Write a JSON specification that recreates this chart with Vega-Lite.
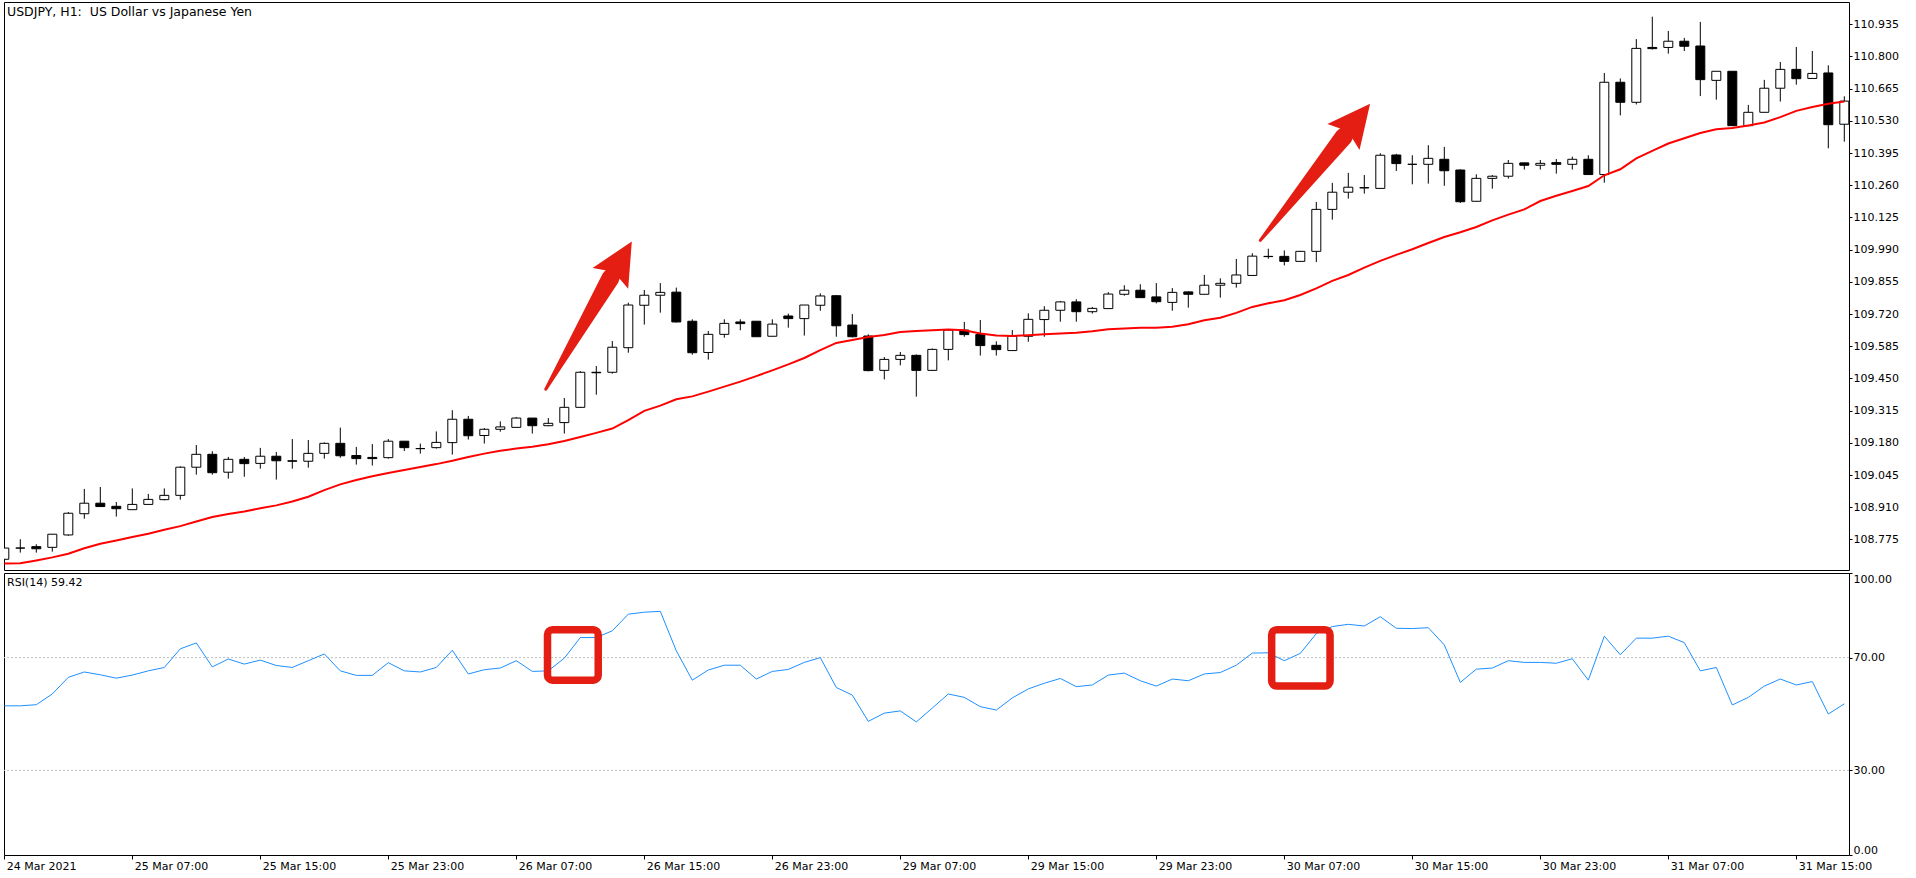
{
  "$schema": "https://vega.github.io/schema/vega-lite/v6.json",
  "background": "white",
  "padding": {"left": 1, "top": 1, "right": 0, "bottom": 0},
  "config": {
    "view": {"stroke": "black", "strokeWidth": 1},
    "axis": {"labelFont": "DejaVu Sans", "labelFontSize": 11, "labelColor": "black", "tickColor": "black", "domain": false, "grid": false, "labelOverlap": false},
    "axisY": {"labelOverlap": false},
    "title": {"font": "DejaVu Sans", "color": "black", "fontWeight": "normal"}
  },
  "datasets": {
    "bars": [
      {"t":"24 Mar 23:00","o":108.692,"h":108.742,"l":108.690,"c":108.739,"ma":108.674,"rsi":52.9},
      {"t":"25 Mar 00:00","o":108.739,"h":108.776,"l":108.720,"c":108.739,"ma":108.675,"rsi":52.9},
      {"t":"25 Mar 01:00","o":108.745,"h":108.755,"l":108.720,"c":108.736,"ma":108.687,"rsi":53.3},
      {"t":"25 Mar 02:00","o":108.742,"h":108.797,"l":108.724,"c":108.797,"ma":108.700,"rsi":57.1},
      {"t":"25 Mar 03:00","o":108.794,"h":108.890,"l":108.790,"c":108.885,"ma":108.715,"rsi":63.0},
      {"t":"25 Mar 04:00","o":108.883,"h":108.987,"l":108.862,"c":108.927,"ma":108.738,"rsi":64.9},
      {"t":"25 Mar 05:00","o":108.927,"h":108.995,"l":108.912,"c":108.913,"ma":108.757,"rsi":63.9},
      {"t":"25 Mar 06:00","o":108.914,"h":108.932,"l":108.871,"c":108.904,"ma":108.771,"rsi":62.7},
      {"t":"25 Mar 07:00","o":108.900,"h":108.989,"l":108.899,"c":108.922,"ma":108.785,"rsi":63.8},
      {"t":"25 Mar 08:00","o":108.922,"h":108.966,"l":108.921,"c":108.943,"ma":108.799,"rsi":65.3},
      {"t":"25 Mar 09:00","o":108.942,"h":108.989,"l":108.939,"c":108.960,"ma":108.816,"rsi":66.5},
      {"t":"25 Mar 10:00","o":108.960,"h":109.082,"l":108.942,"c":109.078,"ma":108.831,"rsi":73.1},
      {"t":"25 Mar 11:00","o":109.078,"h":109.171,"l":109.047,"c":109.132,"ma":108.850,"rsi":75.2},
      {"t":"25 Mar 12:00","o":109.132,"h":109.145,"l":109.047,"c":109.055,"ma":108.869,"rsi":66.7},
      {"t":"25 Mar 13:00","o":109.057,"h":109.121,"l":109.030,"c":109.111,"ma":108.882,"rsi":69.5},
      {"t":"25 Mar 14:00","o":109.111,"h":109.121,"l":109.038,"c":109.093,"ma":108.892,"rsi":67.7},
      {"t":"25 Mar 15:00","o":109.094,"h":109.159,"l":109.072,"c":109.124,"ma":108.906,"rsi":69.1},
      {"t":"25 Mar 16:00","o":109.124,"h":109.142,"l":109.026,"c":109.105,"ma":108.918,"rsi":67.2},
      {"t":"25 Mar 17:00","o":109.105,"h":109.196,"l":109.072,"c":109.103,"ma":108.934,"rsi":66.5},
      {"t":"25 Mar 18:00","o":109.103,"h":109.192,"l":109.076,"c":109.136,"ma":108.954,"rsi":68.9},
      {"t":"25 Mar 19:00","o":109.136,"h":109.182,"l":109.114,"c":109.178,"ma":108.982,"rsi":71.3},
      {"t":"25 Mar 20:00","o":109.178,"h":109.244,"l":109.118,"c":109.126,"ma":109.006,"rsi":65.3},
      {"t":"25 Mar 21:00","o":109.127,"h":109.163,"l":109.089,"c":109.114,"ma":109.024,"rsi":63.7},
      {"t":"25 Mar 22:00","o":109.119,"h":109.175,"l":109.085,"c":109.114,"ma":109.040,"rsi":63.7},
      {"t":"25 Mar 23:00","o":109.118,"h":109.196,"l":109.114,"c":109.187,"ma":109.054,"rsi":68.2},
      {"t":"26 Mar 00:00","o":109.187,"h":109.187,"l":109.146,"c":109.160,"ma":109.066,"rsi":65.3},
      {"t":"26 Mar 01:00","o":109.156,"h":109.177,"l":109.135,"c":109.156,"ma":109.079,"rsi":64.9},
      {"t":"26 Mar 02:00","o":109.160,"h":109.228,"l":109.156,"c":109.182,"ma":109.091,"rsi":66.5},
      {"t":"26 Mar 03:00","o":109.181,"h":109.317,"l":109.131,"c":109.279,"ma":109.105,"rsi":72.6},
      {"t":"26 Mar 04:00","o":109.279,"h":109.293,"l":109.194,"c":109.210,"ma":109.121,"rsi":64.2},
      {"t":"26 Mar 05:00","o":109.211,"h":109.242,"l":109.177,"c":109.237,"ma":109.135,"rsi":65.7},
      {"t":"26 Mar 06:00","o":109.237,"h":109.270,"l":109.227,"c":109.247,"ma":109.147,"rsi":66.3},
      {"t":"26 Mar 07:00","o":109.245,"h":109.288,"l":109.245,"c":109.284,"ma":109.156,"rsi":68.9},
      {"t":"26 Mar 08:00","o":109.284,"h":109.284,"l":109.219,"c":109.252,"ma":109.164,"rsi":65.1},
      {"t":"26 Mar 09:00","o":109.252,"h":109.284,"l":109.250,"c":109.262,"ma":109.174,"rsi":65.3},
      {"t":"26 Mar 10:00","o":109.265,"h":109.368,"l":109.219,"c":109.329,"ma":109.188,"rsi":69.8},
      {"t":"26 Mar 11:00","o":109.329,"h":109.481,"l":109.327,"c":109.476,"ma":109.205,"rsi":77.1},
      {"t":"26 Mar 12:00","o":109.476,"h":109.502,"l":109.382,"c":109.474,"ma":109.222,"rsi":77.1},
      {"t":"26 Mar 13:00","o":109.476,"h":109.607,"l":109.470,"c":109.581,"ma":109.240,"rsi":79.5},
      {"t":"26 Mar 14:00","o":109.579,"h":109.768,"l":109.558,"c":109.758,"ma":109.275,"rsi":85.4},
      {"t":"26 Mar 15:00","o":109.757,"h":109.821,"l":109.676,"c":109.799,"ma":109.314,"rsi":86.1},
      {"t":"26 Mar 16:00","o":109.799,"h":109.850,"l":109.726,"c":109.811,"ma":109.336,"rsi":86.4},
      {"t":"26 Mar 17:00","o":109.812,"h":109.831,"l":109.685,"c":109.687,"ma":109.363,"rsi":72.4},
      {"t":"26 Mar 18:00","o":109.690,"h":109.698,"l":109.550,"c":109.558,"ma":109.375,"rsi":62.0},
      {"t":"26 Mar 19:00","o":109.559,"h":109.649,"l":109.529,"c":109.635,"ma":109.395,"rsi":65.6},
      {"t":"26 Mar 20:00","o":109.635,"h":109.698,"l":109.621,"c":109.681,"ma":109.416,"rsi":67.3},
      {"t":"26 Mar 21:00","o":109.687,"h":109.698,"l":109.652,"c":109.680,"ma":109.437,"rsi":67.3},
      {"t":"26 Mar 22:00","o":109.690,"h":109.691,"l":109.624,"c":109.625,"ma":109.460,"rsi":62.4},
      {"t":"26 Mar 23:00","o":109.627,"h":109.698,"l":109.626,"c":109.678,"ma":109.484,"rsi":65.1},
      {"t":"29 Mar 00:00","o":109.712,"h":109.722,"l":109.663,"c":109.701,"ma":109.509,"rsi":65.8},
      {"t":"29 Mar 01:00","o":109.701,"h":109.758,"l":109.630,"c":109.758,"ma":109.536,"rsi":68.3},
      {"t":"29 Mar 02:00","o":109.757,"h":109.807,"l":109.734,"c":109.796,"ma":109.569,"rsi":70.0},
      {"t":"29 Mar 03:00","o":109.797,"h":109.800,"l":109.625,"c":109.671,"ma":109.599,"rsi":59.4},
      {"t":"29 Mar 04:00","o":109.674,"h":109.720,"l":109.622,"c":109.625,"ma":109.611,"rsi":56.7},
      {"t":"29 Mar 05:00","o":109.628,"h":109.635,"l":109.480,"c":109.483,"ma":109.624,"rsi":47.4},
      {"t":"29 Mar 06:00","o":109.484,"h":109.540,"l":109.446,"c":109.530,"ma":109.632,"rsi":50.3},
      {"t":"29 Mar 07:00","o":109.530,"h":109.561,"l":109.505,"c":109.547,"ma":109.645,"rsi":51.1},
      {"t":"29 Mar 08:00","o":109.547,"h":109.551,"l":109.374,"c":109.484,"ma":109.649,"rsi":47.2},
      {"t":"29 Mar 09:00","o":109.484,"h":109.576,"l":109.482,"c":109.572,"ma":109.652,"rsi":52.1},
      {"t":"29 Mar 10:00","o":109.572,"h":109.653,"l":109.526,"c":109.653,"ma":109.655,"rsi":57.1},
      {"t":"29 Mar 11:00","o":109.653,"h":109.687,"l":109.625,"c":109.634,"ma":109.652,"rsi":55.9},
      {"t":"29 Mar 12:00","o":109.634,"h":109.695,"l":109.546,"c":109.588,"ma":109.639,"rsi":52.6},
      {"t":"29 Mar 13:00","o":109.589,"h":109.606,"l":109.546,"c":109.571,"ma":109.630,"rsi":51.4},
      {"t":"29 Mar 14:00","o":109.567,"h":109.653,"l":109.566,"c":109.627,"ma":109.628,"rsi":55.7},
      {"t":"29 Mar 15:00","o":109.627,"h":109.723,"l":109.604,"c":109.698,"ma":109.631,"rsi":58.9},
      {"t":"29 Mar 16:00","o":109.697,"h":109.753,"l":109.625,"c":109.736,"ma":109.635,"rsi":60.9},
      {"t":"29 Mar 17:00","o":109.736,"h":109.775,"l":109.688,"c":109.771,"ma":109.639,"rsi":62.6},
      {"t":"29 Mar 18:00","o":109.771,"h":109.782,"l":109.688,"c":109.730,"ma":109.642,"rsi":59.7},
      {"t":"29 Mar 19:00","o":109.730,"h":109.750,"l":109.722,"c":109.744,"ma":109.648,"rsi":60.3},
      {"t":"29 Mar 20:00","o":109.743,"h":109.812,"l":109.742,"c":109.804,"ma":109.656,"rsi":63.8},
      {"t":"29 Mar 21:00","o":109.803,"h":109.841,"l":109.797,"c":109.820,"ma":109.660,"rsi":64.5},
      {"t":"29 Mar 22:00","o":109.820,"h":109.845,"l":109.788,"c":109.789,"ma":109.663,"rsi":61.8},
      {"t":"29 Mar 23:00","o":109.792,"h":109.850,"l":109.765,"c":109.772,"ma":109.663,"rsi":59.9},
      {"t":"30 Mar 00:00","o":109.769,"h":109.829,"l":109.734,"c":109.811,"ma":109.667,"rsi":62.4},
      {"t":"30 Mar 01:00","o":109.813,"h":109.815,"l":109.747,"c":109.803,"ma":109.677,"rsi":61.8},
      {"t":"30 Mar 02:00","o":109.803,"h":109.884,"l":109.802,"c":109.841,"ma":109.694,"rsi":64.2},
      {"t":"30 Mar 03:00","o":109.841,"h":109.870,"l":109.789,"c":109.849,"ma":109.705,"rsi":64.7},
      {"t":"30 Mar 04:00","o":109.849,"h":109.951,"l":109.831,"c":109.884,"ma":109.725,"rsi":67.3},
      {"t":"30 Mar 05:00","o":109.882,"h":109.975,"l":109.881,"c":109.963,"ma":109.750,"rsi":71.6},
      {"t":"30 Mar 06:00","o":109.962,"h":109.994,"l":109.952,"c":109.961,"ma":109.765,"rsi":71.7},
      {"t":"30 Mar 07:00","o":109.962,"h":109.987,"l":109.924,"c":109.941,"ma":109.778,"rsi":68.9},
      {"t":"30 Mar 08:00","o":109.941,"h":109.985,"l":109.940,"c":109.983,"ma":109.800,"rsi":71.5},
      {"t":"30 Mar 09:00","o":109.983,"h":110.190,"l":109.938,"c":110.159,"ma":109.828,"rsi":78.5},
      {"t":"30 Mar 10:00","o":110.159,"h":110.270,"l":110.116,"c":110.231,"ma":109.859,"rsi":81.0},
      {"t":"30 Mar 11:00","o":110.231,"h":110.312,"l":110.204,"c":110.252,"ma":109.884,"rsi":81.8},
      {"t":"30 Mar 12:00","o":110.250,"h":110.303,"l":110.225,"c":110.249,"ma":109.915,"rsi":81.2},
      {"t":"30 Mar 13:00","o":110.247,"h":110.394,"l":110.246,"c":110.386,"ma":109.943,"rsi":84.5},
      {"t":"30 Mar 14:00","o":110.387,"h":110.392,"l":110.320,"c":110.351,"ma":109.968,"rsi":80.4},
      {"t":"30 Mar 15:00","o":110.348,"h":110.386,"l":110.264,"c":110.348,"ma":109.992,"rsi":80.3},
      {"t":"30 Mar 16:00","o":110.348,"h":110.428,"l":110.267,"c":110.373,"ma":110.018,"rsi":80.6},
      {"t":"30 Mar 17:00","o":110.369,"h":110.421,"l":110.258,"c":110.321,"ma":110.043,"rsi":74.5},
      {"t":"30 Mar 18:00","o":110.324,"h":110.327,"l":110.186,"c":110.191,"ma":110.063,"rsi":61.2},
      {"t":"30 Mar 19:00","o":110.193,"h":110.306,"l":110.192,"c":110.289,"ma":110.085,"rsi":65.9},
      {"t":"30 Mar 20:00","o":110.289,"h":110.303,"l":110.246,"c":110.298,"ma":110.113,"rsi":66.3},
      {"t":"30 Mar 21:00","o":110.298,"h":110.366,"l":110.288,"c":110.352,"ma":110.137,"rsi":68.9},
      {"t":"30 Mar 22:00","o":110.354,"h":110.355,"l":110.326,"c":110.344,"ma":110.159,"rsi":68.3},
      {"t":"30 Mar 23:00","o":110.344,"h":110.366,"l":110.326,"c":110.352,"ma":110.194,"rsi":68.3},
      {"t":"31 Mar 00:00","o":110.355,"h":110.370,"l":110.309,"c":110.348,"ma":110.216,"rsi":68.0},
      {"t":"31 Mar 01:00","o":110.348,"h":110.380,"l":110.326,"c":110.369,"ma":110.236,"rsi":69.6},
      {"t":"31 Mar 02:00","o":110.369,"h":110.386,"l":110.303,"c":110.305,"ma":110.257,"rsi":62.0},
      {"t":"31 Mar 03:00","o":110.305,"h":110.731,"l":110.271,"c":110.692,"ma":110.302,"rsi":77.6},
      {"t":"31 Mar 04:00","o":110.692,"h":110.708,"l":110.553,"c":110.608,"ma":110.327,"rsi":71.0},
      {"t":"31 Mar 05:00","o":110.608,"h":110.873,"l":110.599,"c":110.834,"ma":110.373,"rsi":76.9},
      {"t":"31 Mar 06:00","o":110.838,"h":110.967,"l":110.829,"c":110.833,"ma":110.404,"rsi":76.9},
      {"t":"31 Mar 07:00","o":110.838,"h":110.907,"l":110.812,"c":110.864,"ma":110.435,"rsi":77.6},
      {"t":"31 Mar 08:00","o":110.864,"h":110.878,"l":110.823,"c":110.843,"ma":110.457,"rsi":75.3},
      {"t":"31 Mar 09:00","o":110.844,"h":110.945,"l":110.634,"c":110.703,"ma":110.479,"rsi":65.3},
      {"t":"31 Mar 10:00","o":110.700,"h":110.738,"l":110.619,"c":110.738,"ma":110.495,"rsi":66.5},
      {"t":"31 Mar 11:00","o":110.738,"h":110.738,"l":110.509,"c":110.510,"ma":110.500,"rsi":53.2},
      {"t":"31 Mar 12:00","o":110.510,"h":110.597,"l":110.508,"c":110.566,"ma":110.511,"rsi":55.9},
      {"t":"31 Mar 13:00","o":110.566,"h":110.702,"l":110.565,"c":110.667,"ma":110.523,"rsi":59.9},
      {"t":"31 Mar 14:00","o":110.667,"h":110.777,"l":110.611,"c":110.746,"ma":110.546,"rsi":62.4},
      {"t":"31 Mar 15:00","o":110.746,"h":110.840,"l":110.682,"c":110.707,"ma":110.572,"rsi":60.3},
      {"t":"31 Mar 16:00","o":110.708,"h":110.823,"l":110.707,"c":110.729,"ma":110.588,"rsi":61.5},
      {"t":"31 Mar 17:00","o":110.731,"h":110.763,"l":110.415,"c":110.514,"ma":110.602,"rsi":50.0},
      {"t":"31 Mar 18:00","o":110.516,"h":110.633,"l":110.443,"c":110.613,"ma":110.611,"rsi":53.6}
    ],
    "arrows": [
      {"arrow":"A","part":"tail","x":33.84,"p":109.405},
      {"arrow":"A","part":"neck","x":37.89,"p":109.871},
      {"arrow":"A","part":"head","x":38.55,"p":109.947},
      {"arrow":"B","part":"tail","x":78.5,"p":110.029},
      {"arrow":"B","part":"neck","x":83.71,"p":110.463},
      {"arrow":"B","part":"head","x":84.53,"p":110.532}
    ],
    "boxes": [
      {"box":1,"x1":33.95,"x2":37.12,"r1":62.0,"r2":79.9},
      {"box":2,"x1":79.21,"x2":82.86,"r1":59.9,"r2":79.9}
    ],
    "levels": [{"lvl":70},{"lvl":30}]
  },
  "spacing": 3,
  "bounds": "flush",
  "vconcat": [
    {
      "width": 1845,
      "height": 568,
      "title": {"text": "USDJPY, H1:\u00a0 US Dollar vs Japanese Yen", "anchor": "start", "frame": "group", "offset": -16, "dx": 3, "fontSize": 12.5},
      "resolve": {"scale": {"x": "independent"}, "axis": {"x": "independent"}},
      "layer": [
        {
          "data": {"name": "bars"},
          "layer": [
            {
              "mark": {"type": "rule", "color": "black", "strokeWidth": 1, "clip": true},
              "encoding": {
                "x": {"field": "t", "type": "ordinal", "sort": null, "scale": {"type": "point", "range": [0.3, 1840.3], "padding": 0}, "axis": null},
                "y": {"field": "l", "type": "quantitative", "title": null,
                      "scale": {"domain": [108.647, 111.0285], "nice": false, "zero": false},
                      "axis": {"orient": "right", "values": [108.775, 108.91, 109.045, 109.18, 109.315, 109.45, 109.585, 109.72, 109.855, 109.99, 110.125, 110.26, 110.395, 110.53, 110.665, 110.8, 110.935], "format": ".3f", "tickSize": 3, "labelPadding": 1, "labelOverlap": false}},
                "y2": {"field": "h"}
              }
            },
            {
              "mark": {"type": "bar", "width": 9, "stroke": "black", "strokeWidth": 1, "clip": true},
              "encoding": {
                "x": {"field": "t", "type": "ordinal", "sort": null, "scale": {"type": "point", "range": [0.3, 1840.3], "padding": 0}, "axis": null},
                "y": {"field": "o", "type": "quantitative", "title": null, "axis": {"orient": "right", "values": [108.775, 108.91, 109.045, 109.18, 109.315, 109.45, 109.585, 109.72, 109.855, 109.99, 110.125, 110.26, 110.395, 110.53, 110.665, 110.8, 110.935], "format": ".3f", "tickSize": 3, "labelPadding": 1, "labelOverlap": false}},
                "y2": {"field": "c"},
                "fill": {"condition": {"test": "datum.c > datum.o", "value": "white"}, "value": "black"}
              }
            },
            {
              "mark": {"type": "line", "color": "#ff0000", "strokeWidth": 2, "clip": true},
              "encoding": {
                "x": {"field": "t", "type": "ordinal", "sort": null, "scale": {"type": "point", "range": [0.3, 1840.3], "padding": 0}, "axis": null},
                "y": {"field": "ma", "type": "quantitative", "title": null, "axis": {"orient": "right", "values": [108.775, 108.91, 109.045, 109.18, 109.315, 109.45, 109.585, 109.72, 109.855, 109.99, 110.125, 110.26, 110.395, 110.53, 110.665, 110.8, 110.935], "format": ".3f", "tickSize": 3, "labelPadding": 1, "labelOverlap": false}}
              }
            }
          ]
        },
        {
          "data": {"name": "arrows"},
          "layer": [
            {
              "transform": [{"filter": "datum.part != 'head'"}],
              "mark": {"type": "trail", "color": "#e41e12"},
              "encoding": {
                "x": {"field": "x", "type": "quantitative", "scale": {"domain": [0, 115], "range": [0.3, 1840.3], "nice": false, "zero": false}, "axis": null},
                "y": {"field": "p", "type": "quantitative", "title": null, "axis": {"orient": "right", "values": [108.775, 108.91, 109.045, 109.18, 109.315, 109.45, 109.585, 109.72, 109.855, 109.99, 110.125, 110.26, 110.395, 110.53, 110.665, 110.8, 110.935], "format": ".3f", "tickSize": 3, "labelPadding": 1, "labelOverlap": false}},
                "size": {"field": "part", "type": "ordinal", "scale": {"domain": ["tail", "neck"], "range": [3, 18]}, "legend": null},
                "detail": {"field": "arrow"}
              }
            },
            {
              "transform": [{"filter": "datum.part == 'head' && datum.arrow == 'A'"}],
              "mark": {"type": "point", "shape": "M0,-1L0.97,1L0.4,0.8L-0.4,0.8L-0.97,1Z", "filled": true, "opacity": 1, "color": "#e41e12", "size": 1806, "angle": 30.3, "strokeWidth": 0},
              "encoding": {
                "x": {"field": "x", "type": "quantitative", "scale": {"domain": [0, 115], "range": [0.3, 1840.3], "nice": false, "zero": false}, "axis": null},
                "y": {"field": "p", "type": "quantitative", "title": null, "axis": {"orient": "right", "values": [108.775, 108.91, 109.045, 109.18, 109.315, 109.45, 109.585, 109.72, 109.855, 109.99, 110.125, 110.26, 110.395, 110.53, 110.665, 110.8, 110.935], "format": ".3f", "tickSize": 3, "labelPadding": 1, "labelOverlap": false}}
              }
            },
            {
              "transform": [{"filter": "datum.part == 'head' && datum.arrow == 'B'"}],
              "mark": {"type": "point", "shape": "M0,-1L0.97,1L0.4,0.8L-0.4,0.8L-0.97,1Z", "filled": true, "opacity": 1, "color": "#e41e12", "size": 1806, "angle": 38.8, "strokeWidth": 0},
              "encoding": {
                "x": {"field": "x", "type": "quantitative", "scale": {"domain": [0, 115], "range": [0.3, 1840.3], "nice": false, "zero": false}, "axis": null},
                "y": {"field": "p", "type": "quantitative", "title": null, "axis": {"orient": "right", "values": [108.775, 108.91, 109.045, 109.18, 109.315, 109.45, 109.585, 109.72, 109.855, 109.99, 110.125, 110.26, 110.395, 110.53, 110.665, 110.8, 110.935], "format": ".3f", "tickSize": 3, "labelPadding": 1, "labelOverlap": false}}
              }
            }
          ]
        }
      ]
    },
    {
      "width": 1845,
      "height": 282,
      "title": {"text": "RSI(14) 59.42", "anchor": "start", "frame": "group", "offset": -15, "dx": 3, "fontSize": 11},
      "resolve": {"scale": {"x": "independent"}, "axis": {"x": "independent"}},
      "layer": [
        {
          "data": {"name": "levels"},
          "mark": {"type": "rule", "color": "#c0c0c0", "strokeWidth": 1, "strokeDash": [2, 2]},
          "encoding": {
            "y": {"field": "lvl", "type": "quantitative", "title": null,
                  "scale": {"domain": [0, 100], "nice": false, "zero": false},
                  "axis": {"orient": "right", "values": [0, 30, 70, 100], "format": ".2f", "labelFlush": true, "tickSize": 3, "labelPadding": 1}}
          }
        },
        {
          "data": {"name": "bars"},
          "mark": {"type": "line", "color": "#1e90ff", "strokeWidth": 1},
          "encoding": {
            "x": {"field": "t", "type": "ordinal", "sort": null, "title": null,
                  "scale": {"type": "point", "range": [0.3, 1840.3], "padding": 0},
                  "axis": {"orient": "bottom", "values": ["24 Mar 23:00", "25 Mar 07:00", "25 Mar 15:00", "25 Mar 23:00", "26 Mar 07:00", "26 Mar 15:00", "26 Mar 23:00", "29 Mar 07:00", "29 Mar 15:00", "29 Mar 23:00", "30 Mar 07:00", "30 Mar 15:00", "30 Mar 23:00", "31 Mar 07:00", "31 Mar 15:00"],
                           "labelExpr": "datum.value == '24 Mar 23:00' ? '24 Mar 2021' : datum.value",
                           "labelAngle": 0, "labelAlign": "left", "labelBaseline": "top", "labelOffset": 2, "tickSize": 4, "labelPadding": 1, "labelOverlap": false, "labelBound": false, "labelFlush": false}},
            "y": {"field": "rsi", "type": "quantitative", "title": null, "axis": {"orient": "right", "values": [0, 30, 70, 100], "format": ".2f", "labelFlush": true, "tickSize": 3, "labelPadding": 1}}
          }
        },
        {
          "data": {"name": "boxes"},
          "mark": {"type": "rect", "fill": "white", "fillOpacity": 0, "stroke": "#e41e12", "strokeWidth": 7.5, "cornerRadius": 5},
          "encoding": {
            "x": {"field": "x1", "type": "quantitative", "scale": {"domain": [0, 115], "range": [0.3, 1840.3], "nice": false, "zero": false}, "axis": null},
            "x2": {"field": "x2"},
            "y": {"field": "r1", "type": "quantitative", "title": null, "axis": {"orient": "right", "values": [0, 30, 70, 100], "format": ".2f", "labelFlush": true, "tickSize": 3, "labelPadding": 1}},
            "y2": {"field": "r2"}
          }
        }
      ]
    }
  ]
}
